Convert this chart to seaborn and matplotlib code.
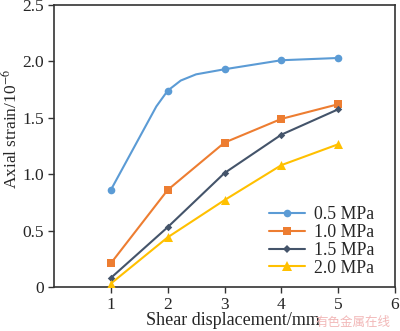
import matplotlib
matplotlib.use("Agg")
import matplotlib.pyplot as plt
from matplotlib.lines import Line2D
import seaborn as sns
import pandas as pd

sns.set_style("ticks")
plt.rcParams['font.family'] = ['Liberation Serif', 'DejaVu Serif']
plt.rcParams['mathtext.fontset'] = 'stix'

labels = ["0.5 MPa", "1.0 MPa", "1.5 MPa", "2.0 MPa"]
colors = ["#5B9BD5", "#ED7D31", "#44546A", "#FFC000"]
markers = ["o", "s", "D", "^"]
msizes = [5.5, 5.5, 3.8, 6.5]

x_pts = [1, 2, 3, 4, 5]
y_05 = [0.86, 1.74, 1.93, 2.01, 2.03]
y_10 = [0.21, 0.86, 1.28, 1.49, 1.62]
y_15 = [0.08, 0.53, 1.01, 1.35, 1.575]
y_20 = [0.03, 0.44, 0.77, 1.08, 1.265]

# line vertices (0.5 MPa curve bends near 2.2 mm)
x_line_05 = [1, 1.8, 2, 2.23, 2.5, 3, 4, 5]
y_line_05 = [0.86, 1.60, 1.74, 1.83, 1.885, 1.93, 2.01, 2.03]

series = [y_05, y_10, y_15, y_20]

fig = plt.figure(figsize=(4.0, 3.31), dpi=100)
ax = fig.add_axes([0.135, 0.133, 0.8525, 0.852])

lines_df = [pd.DataFrame({"x": x_line_05, "y": y_line_05})] + \
           [pd.DataFrame({"x": x_pts, "y": s}) for s in series[1:]]
for i, df in enumerate(lines_df):
    sns.lineplot(data=df, x="x", y="y", ax=ax, color=colors[i], lw=1.5,
                 legend=False, sort=False)
    pts = pd.DataFrame({"x": x_pts, "y": series[i]})
    sns.scatterplot(data=pts, x="x", y="y", ax=ax, color=colors[i],
                    marker=markers[i], s=msizes[i] ** 2, linewidth=0,
                    legend=False, zorder=3)

ax.set_xlim(0, 6)
ax.set_ylim(0, 2.5)
ax.set_xticks([1, 2, 3, 4, 5, 6])
ax.set_yticks([0, 0.5, 1.0, 1.5, 2.0, 2.5])
ax.set_yticklabels(["0", "0.5", "1.0", "1.5", "2.0", "2.5"])
ax.tick_params(labelsize=12.5, length=4, width=1, color="#333333", pad=3)
for sp in ax.spines.values():
    sp.set_linewidth(1.2)
    sp.set_color("#333333")
ax.set_xlabel("Shear displacement/mm", fontsize=13)
ax.set_ylabel(r"Axial strain/10$^{-6}$", fontsize=12.5)
ax.xaxis.set_label_coords(0.525, -0.088)
ax.yaxis.set_label_coords(-0.098, 0.56)

handles = [Line2D([0], [0], color=colors[i], marker=markers[i],
                  markersize=msizes[i], lw=1.5, markeredgewidth=0)
           for i in range(4)]
ax.legend(handles, labels, loc="lower right", bbox_to_anchor=(0.985, -0.02),
          frameon=False, fontsize=12.8, handlelength=2.0, labelspacing=0.05,
          handletextpad=0.5)

fig.text(0.975, 0.005, "有色金属在线", color="#F2B8B8", fontsize=9,
         ha="right", va="bottom", family=["Noto Sans CJK SC", "DejaVu Sans"])

fig.savefig("out.png", dpi=100)
